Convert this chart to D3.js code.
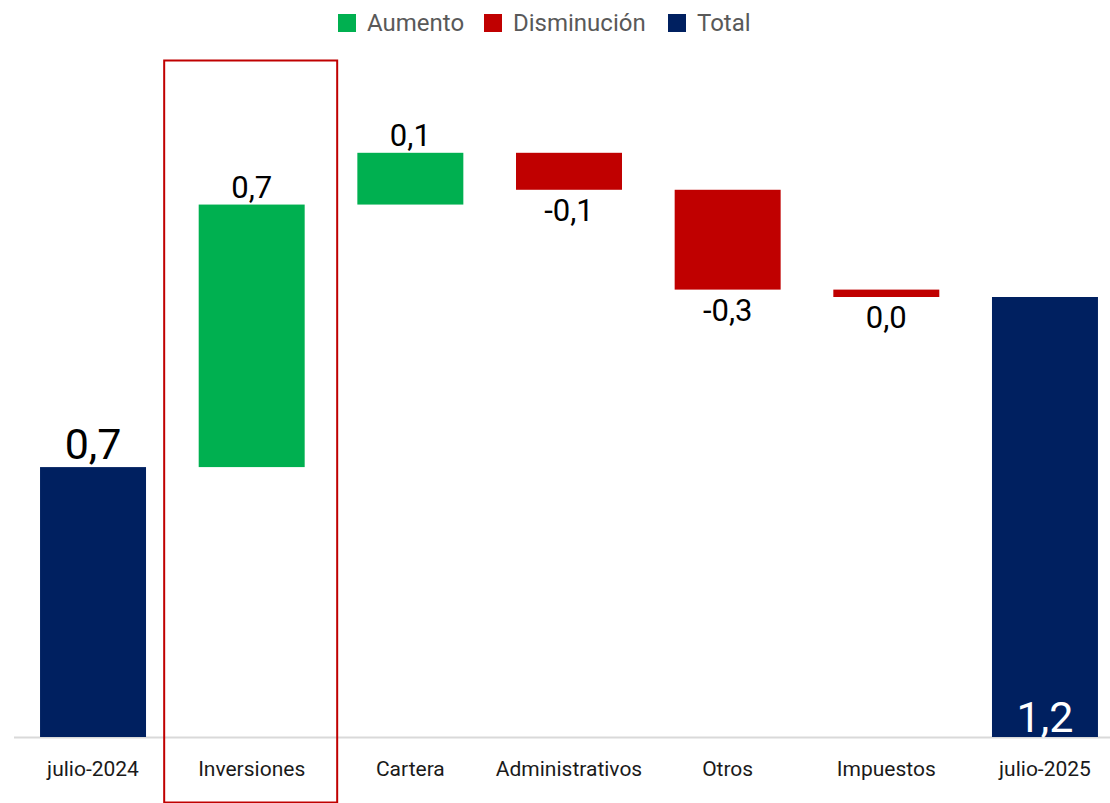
<!DOCTYPE html>
<html lang="es">
<head>
<meta charset="UTF-8">
<title>Cascada</title>
<style>
  * { margin: 0; padding: 0; }
  body { background: #fff; }
  text { font-family: Roboto, "Noto Sans", sans-serif; }
</style>
<script src="https://cdn.jsdelivr.net/npm/d3@7/dist/d3.min.js"></script>
</head>
<body>
<svg id="chart" width="1110" height="803"></svg>
<script>
// datos
const categories = ["julio-2024", "Inversiones", "Cartera", "Administrativos", "Otros", "Impuestos", "julio-2025"];
const startValue = 0.73;
const changes = [0.71, 0.14, -0.10, -0.27, -0.02];
const legendNames = ["Aumento", "Disminución", "Total"];
const legendColors = ["#00b050", "#c00000", "#002060"];
const highlighted = "Inversiones";

// armar las barras de la cascada
const bars = [];
let acc = startValue;
bars.push({ cat: categories[0], y0: 0, y1: startValue, v: startValue, type: "Total" });
changes.forEach((c, i) => {
  bars.push({ cat: categories[i + 1], y0: acc, y1: acc + c, v: c, type: c >= 0 ? "Aumento" : "Disminución" });
  acc += c;
});
bars.push({ cat: categories[categories.length - 1], y0: 0, y1: acc, v: acc, type: "Total" });

const svg = d3.select("#chart");
const baseY = 737;

const x = d3.scaleBand()
  .domain(categories)
  .range([13.7, 1124.3])
  .paddingInner(0.332)
  .paddingOuter(0.166);

const y = d3.scaleLinear()
  .domain([0, acc])
  .range([baseY, 297]);

const color = d3.scaleOrdinal().domain(legendNames).range(legendColors);
const fmt = v => {
  let s = v.toFixed(1);
  if (s === "-0.0") s = "0.0";
  return s.replace(".", ",");
};

// eje
svg.append("line")
  .attr("x1", 14).attr("x2", 1110)
  .attr("y1", baseY + 0.5).attr("y2", baseY + 0.5)
  .attr("stroke", "#d9d9d9").attr("stroke-width", 2);

// barras
svg.append("g").selectAll("rect").data(bars).enter()
  .append("rect")
  .attr("x", d => x(d.cat))
  .attr("width", x.bandwidth())
  .attr("y", d => y(Math.max(d.y0, d.y1)))
  .attr("height", d => Math.abs(y(d.y0) - y(d.y1)))
  .attr("fill", d => color(d.type));

// etiquetas de valor
svg.append("g").selectAll("text").data(bars).enter()
  .append("text")
  .attr("text-anchor", "middle")
  .attr("x", d => x(d.cat) + x.bandwidth() / 2)
  .attr("y", (d, i) => {
    if (i === bars.length - 1) return baseY - 5;
    if (d.type === "Total") return y(d.y1) - 8;
    if (d.v >= 0) return y(d.y1) - 7;
    return y(d.y1) + 31;
  })
  .attr("font-size", (d, i) => d.type === "Total" ? 43 : 31)
  .attr("fill", (d, i) => i === bars.length - 1 ? "#fff" : "#000")
  .text(d => fmt(d.v));

// categorías
svg.append("g").selectAll("text").data(categories).enter()
  .append("text")
  .attr("text-anchor", "middle")
  .attr("x", d => x(d) + x.bandwidth() / 2)
  .attr("y", 776)
  .attr("font-size", 21)
  .attr("fill", "#1a1a1a")
  .text(d => d);

// recuadro rojo
const hx = x(highlighted) + x.bandwidth() / 2;
svg.append("rect")
  .attr("x", hx - 87.5)
  .attr("y", 60.5)
  .attr("width", 173)
  .attr("height", 742)
  .attr("fill", "none")
  .attr("stroke", "#c00000")
  .attr("stroke-width", 2);

// leyenda
const legendX = [338, 484, 668];
const lg = svg.append("g").selectAll("g").data(legendNames).enter()
  .append("g")
  .attr("transform", (d, i) => `translate(${legendX[i]},14)`);
lg.append("rect").attr("width", 18).attr("height", 18).attr("fill", d => color(d));
lg.append("text")
  .attr("x", 29).attr("y", 17)
  .attr("font-size", 24)
  .attr("fill", "#595959")
  .text(d => d);
</script>
</body>
</html>
